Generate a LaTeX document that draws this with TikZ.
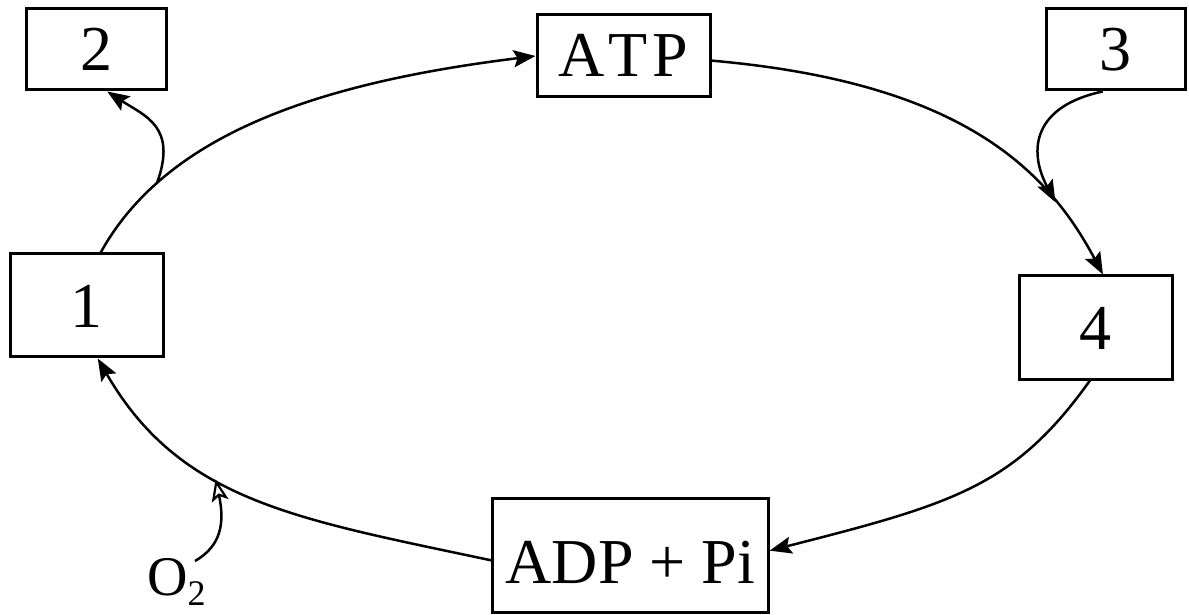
\documentclass[tikz,border=0pt]{standalone}
\usepackage{fontspec}
\setmainfont{Liberation Serif}
\usetikzlibrary{arrows.meta}
\begin{document}
\begin{tikzpicture}[x=1pt,y=1pt,
  box/.style={draw, line width=3pt, inner sep=0pt, font=\fontsize{64}{70}\selectfont, text height=43pt, text depth=0pt},
  link/.style={line width=2.5pt, -{Stealth[length=22pt,width=17pt,inset=4pt]}},
  olink/.style={line width=2.5pt, -{Stealth[open,length=22pt,width=17pt,inset=5pt,line width=2.2pt]}}]
\useasboundingbox (0,0) rectangle (1189,614);
\fill[white] (0,0) rectangle (1189,614);
% boxes
\node[box, minimum width=140pt, minimum height=81pt] (b2) at (96,564.5) {2};
\node[box, minimum width=173pt, minimum height=82pt, text height=42pt] (atp) at (623.5,558) {A\kern4pt T\kern5pt P};
\node[box, minimum width=139pt, minimum height=81pt] (b3) at (1115.5,564.5) {3};
\node[box, minimum width=153pt, minimum height=103pt] (b1) at (86.5,308.5) {1};
\node[box, minimum width=153pt, minimum height=103pt] (b4) at (1095.5,286.5) {4};
\node[box, line width=2.3pt, minimum width=276pt, minimum height=114pt, text height=68pt, text depth=13pt] (adp) at (630.5,58.5) {ADP + Pi};
\node[anchor=base west, inner sep=0pt, font=\fontsize{56}{60}\selectfont] (o2) at (147,19) {O\raisebox{-10pt}{\fontsize{36}{40}\selectfont 2}};
\coordinate (o2s) at (195,53);
% cycle
\draw[link] (b1.75.6) to[out=61, in=187, out distance=130pt, in distance=230pt] coordinate[pos=0.23] (m2) (atp.west);
\draw[link] (atp.-3) to[out=-5, in=118, out distance=250pt, in distance=120pt] coordinate[pos=0.76] (m3) (b4.82);
\draw[link] (b4.-96) to[out=234.5, in=14.3, out distance=130pt, in distance=190pt] (adp.2.3);
\draw[link] (adp.182.7) to[out=168, in=300, out distance=200pt, in distance=165pt] coordinate[pos=0.6] (mo) (b1.-78.5);
% side arrows
\draw[link] (m2) to[out=70, in=-33, out distance=60pt, in distance=45pt] (b2.-75);
\draw[link] (b3.-107) to[out=192, in=118, out distance=70pt, in distance=60pt] (m3);
\draw[olink] (o2s) to[out=30, in=-78, out distance=30pt, in distance=45pt] (mo);
\end{tikzpicture}
\end{document}
